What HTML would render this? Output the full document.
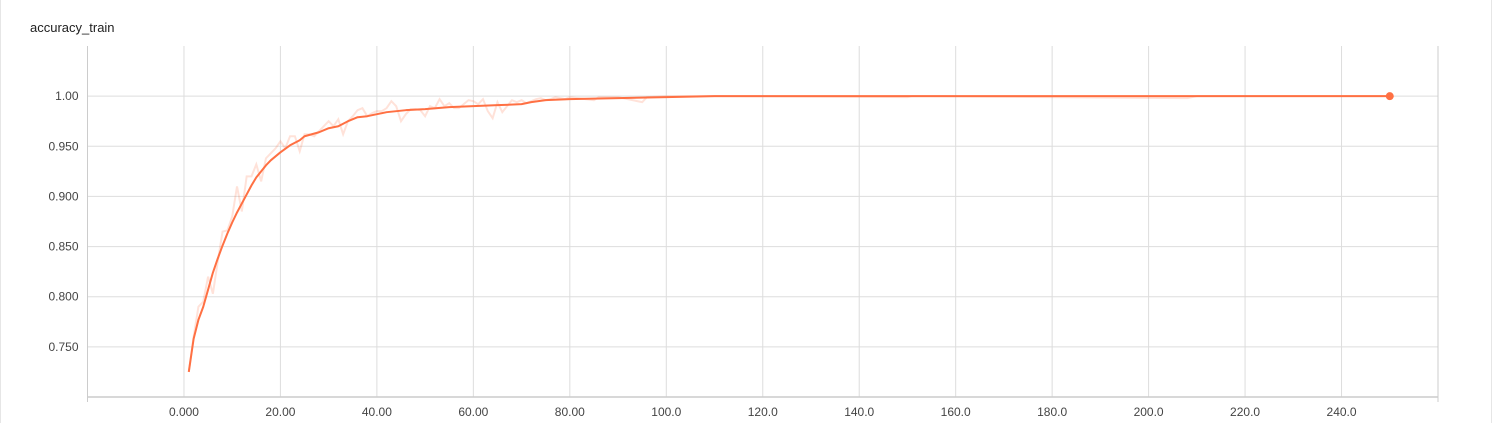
<!DOCTYPE html>
<html><head><meta charset="utf-8"><style>
html,body{margin:0;padding:0;background:#fff;}
body{width:1492px;height:423px;overflow:hidden;position:relative;font-family:"Liberation Sans",sans-serif;}
#card{position:absolute;left:0;top:0;width:1490px;height:423px;border-left:1px solid #e6e6e6;border-right:1px solid #e6e6e6;box-shadow:0 1px 2px rgba(0,0,0,0.15);}
#title{position:absolute;left:30px;top:20px;font-size:13px;color:#212121;}
svg{position:absolute;left:0;top:0;}
text{font-family:"Liberation Sans",sans-serif;font-size:12px;fill:#444;}
</style></head><body>
<div id="card"></div>
<div id="title">accuracy_train</div>
<svg id="chart" width="1492" height="423"></svg>
<script>
const xTicks=[0,20,40,60,80,100,120,140,160,180,200,220,240];
const xTickLabels=["0.000","20.00","40.00","60.00","80.00","100.0","120.0","140.0","160.0","180.0","200.0","220.0","240.0"];
const yTicks=[0.75,0.80,0.85,0.90,0.95,1.00];
const yTickLabels=["0.750","0.800","0.850","0.900","0.950","1.00"];
const smoothSteps=[1,2,3,4,5,6,7,8,9,10,11,12,13,14,15,16,17,18,19,20,22,24,25,28,30,32,34,36,38,40,42,46,50,55,60,65,70,72,75,80,90,100,110,250];
const smoothValues=[0.725,0.758,0.777,0.790,0.807,0.824,0.838,0.851,0.863,0.874,0.884,0.893,0.902,0.911,0.919,0.925,0.931,0.936,0.940,0.944,0.951,0.956,0.960,0.964,0.968,0.970,0.975,0.979,0.980,0.982,0.984,0.986,0.987,0.989,0.990,0.991,0.992,0.994,0.996,0.997,0.998,0.999,1.0,1.0];
const rawSteps=[1,2,3,4,5,6,7,8,9,10,11,12,13,14,15,16,17,18,19,20,21,22,23,24,25,26,27,28,29,30,31,32,33,34,35,36,37,38,39,40,41,42,43,44,45,46,47,48,49,50,51,52,53,54,55,56,57,58,59,60,61,62,63,64,65,66,67,68,69,70,71,72,73,74,75,76,77,78,79,80,85,86,90,95,96,100,110,150,151,208,210,250];
const rawValues=[0.725,0.76,0.79,0.795,0.82,0.803,0.835,0.865,0.866,0.88,0.91,0.885,0.92,0.92,0.932,0.915,0.938,0.943,0.948,0.955,0.948,0.96,0.96,0.945,0.962,0.962,0.96,0.965,0.97,0.975,0.97,0.977,0.962,0.975,0.98,0.986,0.988,0.98,0.983,0.985,0.985,0.988,0.995,0.99,0.975,0.982,0.987,0.987,0.986,0.98,0.99,0.988,0.997,0.99,0.993,0.988,0.988,0.992,0.996,0.995,0.992,0.997,0.985,0.978,0.994,0.984,0.99,0.996,0.994,0.996,0.993,0.995,0.997,0.998,0.996,0.997,0.999,0.998,0.997,0.999,0.996,0.999,0.999,0.994,0.999,1.0,1.0,0.999,1.0,0.998,1.0,1.0];

const X0=87.5,X1=1438,Y0=397,Y1=46;
const xDom=[-20,260],yDom=[0.70,1.05];
const xs=v=>X0+(v-xDom[0])/(xDom[1]-xDom[0])*(X1-X0);
const ys=v=>Y0-(v-yDom[0])/(yDom[1]-yDom[0])*(Y0-Y1);
const NS="http://www.w3.org/2000/svg";
const svg=document.getElementById('chart');
function mk(t,a){const e=document.createElementNS(NS,t);for(const k in a)e.setAttribute(k,a[k]);svg.appendChild(e);return e;}

yTicks.forEach((v,i)=>{
  const g=mk('line',{x1:X0,x2:X1,y1:ys(v),y2:ys(v),stroke:'#ddd','stroke-width':1});
  
  
  const t=mk('text',{x:X0-9,y:ys(v)+4,'text-anchor':'end'});
  t.textContent=yTickLabels[i];
  
  
});
xTicks.forEach((v,i)=>{
  const g=mk('line',{x1:xs(v),x2:xs(v),y1:Y1,y2:Y0,stroke:'#ddd','stroke-width':1});
  
  
  const t=mk('text',{x:xs(v),y:416,'text-anchor':'middle'});
  t.textContent=xTickLabels[i];
  
  
});
const ya=mk('line',{x1:X0,x2:X0,y1:Y1,y2:Y0+5,stroke:'#ccc','stroke-width':1});


const yr=mk('line',{x1:X1,x2:X1,y1:Y1,y2:Y0+5,stroke:'#ccc','stroke-width':1});


const xa=mk('line',{x1:X0,x2:X1,y1:Y0,y2:Y0,stroke:'#ccc','stroke-width':1.5});



const rp=mk('polyline',{points:rawSteps.map((s,i)=>xs(s)+','+ys(rawValues[i])).join(' '),fill:'none',stroke:'#ff7043','stroke-opacity':0.2,'stroke-width':2});


const sp=mk('polyline',{points:smoothSteps.map((s,i)=>xs(s)+','+ys(smoothValues[i])).join(' '),fill:'none',stroke:'#ff7043','stroke-width':2,'stroke-linejoin':'round'});


const n=smoothSteps.length-1;
const dot=mk('circle',{cx:xs(smoothSteps[n]),cy:ys(smoothValues[n]),r:4,fill:'#ff7043'});


</script>
</body></html>
